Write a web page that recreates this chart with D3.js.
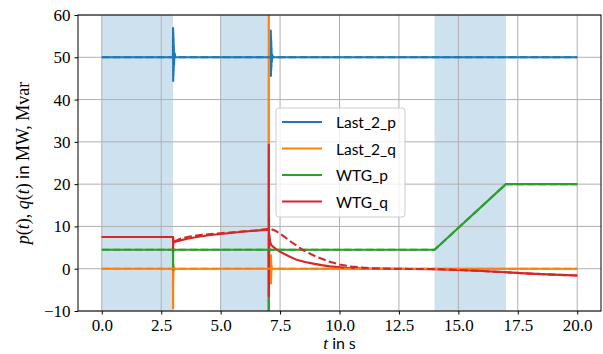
<!DOCTYPE html>
<html>
<head>
<meta charset="utf-8">
<script src="https://cdn.jsdelivr.net/npm/d3@7"></script>
<style>
  body { margin: 0; background: #fff; }
  svg { display: block; }
</style>
</head>
<body>
<svg id="chart" width="603" height="354"></svg>
<script>
// ---- data -------------------------------------------------------------
const seriesNames = ["Last_2_p", "Last_2_q", "WTG_p", "WTG_q"];

// Shaded time windows [start, end] in s
const windowStarts = [0, 5, 14];
const windowEnds   = [3, 7, 17];

const xTicks = [0, 2.5, 5, 7.5, 10, 12.5, 15, 17.5, 20];
const yTicks = [-10, 0, 10, 20, 30, 40, 50, 60];

// Last_2_p, simulated
const tLastP   = [0, 2.99, 3.00, 3.005, 3.01, 3.015, 3.02, 3.025, 3.03, 3.04, 3.06, 3.1, 7.10, 7.11, 7.115, 7.12, 7.125, 7.13, 7.135, 7.14, 7.15, 7.17, 7.2, 20];
const valLastP = [50, 50, 56.9, 44.4, 55.8, 45.5, 54.5, 46.8, 52.8, 48.2, 51, 50, 50, 56.3, 45.6, 55, 46.8, 53.8, 47.6, 52.2, 48.8, 50.6, 50, 50];
// Last_2_q, simulated
const tLastQ   = [0, 2.995, 3.00, 3.005, 3.01, 3.02, 3.03, 3.05, 7.02, 7.025, 7.03, 7.035, 7.045, 7.06, 7.11, 7.115, 7.12, 7.125, 7.13, 7.14, 7.16, 20];
const valLastQ = [0, 0, -9.4, 1.2, -2.5, 0.8, -0.4, 0, 0, 75, -20, 6, -2, 0, 0, 3.2, -3.5, 2.2, -1.8, 0.8, 0, 0];
// WTG_p, simulated
const tWtgP   = [0, 2.995, 3.00, 3.005, 3.01, 3.02, 7.015, 7.02, 7.03, 7.035, 7.045, 7.06, 7.1, 14, 17, 20];
const valWtgP = [4.5, 4.5, -0.3, 3.8, 4.8, 4.5, 4.5, -18, 8, 3, 4.8, 4.5, 4.5, 4.5, 20, 20];
// WTG_q, simulated
const tWtgQ   = [0, 2.995, 3.00, 3.005, 3.01, 3.02, 3.05, 3.3, 3.6, 4.0, 4.5, 5.0, 5.5, 6.0, 6.5, 7.02, 7.025, 7.03, 7.035, 7.04, 7.05, 7.08, 7.12, 7.2, 7.5, 7.85, 8.2, 8.55, 8.9, 9.25, 9.6, 10.3, 11.0, 12.0, 13.0, 14.0, 15.0, 16.0, 17.0, 18.0, 19.0, 20.0];
const valWtgQ = [7.5, 7.5, 4.2, 7.0, 5.8, 6.4, 6.3, 6.7, 7.1, 7.5, 7.9, 8.2, 8.5, 8.8, 9.0, 9.2, 29.3, -6.5, 12, 4, 8, 6.5, 5.7, 5.2, 4.0, 3.0, 2.1, 1.6, 1.2, 0.85, 0.55, 0.2, 0.05, 0.0, -0.05, -0.1, -0.3, -0.55, -0.85, -1.15, -1.4, -1.6];

// Reference trajectories (dashed)
const tLastPRef   = [0, 20];
const valLastPRef = [50, 50];
const tLastQRef   = [0, 20];
const valLastQRef = [0, 0];
const tWtgPRef    = [0, 14, 17, 20];
const valWtgPRef  = [4.5, 4.5, 20, 20];
const tWtgQRef    = [0, 3.0, 3.02, 3.3, 3.7, 4.2, 5.0, 5.5, 6.0, 6.5, 7.05, 7.3, 7.6, 8.0, 8.5, 9.0, 9.5, 10.0, 10.5, 11.0, 11.5, 12.0, 13, 14, 15, 16, 17, 18, 19, 20];
const valWtgQRef  = [7.5, 7.5, 6.3, 7.1, 7.6, 8.0, 8.4, 8.6, 8.85, 9.05, 9.5, 9.0, 7.9, 6.2, 4.3, 2.9, 1.8, 1.0, 0.5, 0.25, 0.1, 0.02, -0.05, -0.1, -0.3, -0.55, -0.85, -1.15, -1.4, -1.6];

const colors = ["#1f77b4", "#ff7f0e", "#2ca02c", "#d62728"];

// ---- layout -----------------------------------------------------------
const W = 603, H = 354;
const margin = { top: 15, right: 2, bottom: 43, left: 78 };
const iw = W - margin.left - margin.right;
const ih = H - margin.top - margin.bottom;

const serif = "'Liberation Serif', 'DejaVu Serif', serif";
const sans  = "Lato, 'DejaVu Sans', sans-serif";

const svg = d3.select("#chart");
const g = svg.append("g").attr("transform", `translate(${margin.left},${margin.top})`);

const x = d3.scaleLinear().domain([-1, 21]).range([0, iw]);
const y = d3.scaleLinear().domain([-10, 60]).range([ih, 0]);

svg.append("defs").append("clipPath").attr("id", "plot-clip")
  .append("rect").attr("width", iw).attr("height", ih);

// shaded windows
g.append("g").selectAll("rect")
  .data(windowStarts.map((s, i) => [s, windowEnds[i]]))
  .join("rect")
  .attr("x", d => x(d[0]))
  .attr("width", d => x(d[1]) - x(d[0]))
  .attr("y", 0).attr("height", ih)
  .attr("fill", "#1f77b4").attr("fill-opacity", 0.22);

// grid
const grid = g.append("g").attr("stroke", "#b0b0b0").attr("stroke-width", 1);
grid.selectAll(".gx").data(xTicks).join("line")
  .attr("x1", d => x(d)).attr("x2", d => x(d)).attr("y1", 0).attr("y2", ih);
grid.selectAll(".gy").data(yTicks).join("line")
  .attr("y1", d => y(d)).attr("y2", d => y(d)).attr("x1", 0).attr("x2", iw);

// lines
const line = d3.line().x(d => x(d[0])).y(d => y(d[1]));
const zip = (t, v) => t.map((ti, i) => [ti, v[i]]);

const solid = [zip(tLastP, valLastP), zip(tLastQ, valLastQ), zip(tWtgP, valWtgP), zip(tWtgQ, valWtgQ)];
const dashed = [zip(tLastPRef, valLastPRef), zip(tLastQRef, valLastQRef), zip(tWtgPRef, valWtgPRef), zip(tWtgQRef, valWtgQRef)];

const lines = g.append("g").attr("clip-path", "url(#plot-clip)");
solid.forEach((d, i) => {
  lines.append("path").attr("d", line(d))
    .attr("fill", "none").attr("stroke", colors[i]).attr("stroke-width", 2.1)
    .attr("stroke-linejoin", "round");
});
dashed.forEach((d, i) => {
  lines.append("path").attr("d", line(d))
    .attr("fill", "none").attr("stroke", colors[i]).attr("stroke-width", 2.1)
    .attr("stroke-dasharray", "7.7,3.3");
});

// axes
const xAxis = g.append("g").attr("transform", `translate(0,${ih})`)
  .call(d3.axisBottom(x).tickValues(xTicks).tickFormat(d3.format(".1f")).tickSizeOuter(0).tickSize(3.5).tickPadding(4));
const yAxis = g.append("g")
  .call(d3.axisLeft(y).tickValues(yTicks).tickFormat(d => d < 0 ? "\u2212" + Math.abs(d) : d).tickSizeOuter(0).tickSize(3.5).tickPadding(4));
[xAxis, yAxis].forEach(a => {
  a.select(".domain").remove();
  a.selectAll("text").attr("font-family", serif).attr("font-size", 17).attr("fill", "#000");
  a.selectAll("line").attr("stroke", "#000").attr("stroke-width", 1);
});

// frame
g.append("rect").attr("width", iw).attr("height", ih)
  .attr("fill", "none").attr("stroke", "#000").attr("stroke-width", 1);

// axis labels
const xl = svg.append("text")
  .attr("x", margin.left + iw / 2).attr("y", 349)
  .attr("text-anchor", "middle").attr("font-size", 17).attr("font-family", serif);
xl.append("tspan").attr("font-style", "italic").text("t");
xl.append("tspan").attr("font-family", sans).attr("font-size", 16).text(" in ");
xl.append("tspan").text("s");

const yl = svg.append("text")
  .attr("transform", `translate(29,${margin.top + ih / 2}) rotate(-90)`)
  .attr("text-anchor", "middle").attr("font-size", 18).attr("font-family", serif);
yl.append("tspan").attr("font-style", "italic").text("p");
yl.append("tspan").text("(");
yl.append("tspan").attr("font-style", "italic").text("t");
yl.append("tspan").text("), ");
yl.append("tspan").attr("font-style", "italic").text("q");
yl.append("tspan").text("(");
yl.append("tspan").attr("font-style", "italic").text("t");
yl.append("tspan").text(")");
yl.append("tspan").attr("font-family", sans).attr("font-size", 17).text(" in ");
yl.append("tspan").text("MW, Mvar");

// legend
const lg = svg.append("g").attr("transform", "translate(276,108)");
lg.append("rect").attr("width", 129).attr("height", 109).attr("rx", 3)
  .attr("fill", "#fff").attr("fill-opacity", 0.8)
  .attr("stroke", "#cccccc").attr("stroke-width", 1);
seriesNames.forEach((name, i) => {
  const yy = 14 + i * 26.5;
  lg.append("line").attr("x1", 6).attr("x2", 46).attr("y1", yy).attr("y2", yy)
    .attr("stroke", colors[i]).attr("stroke-width", 2.1);
  lg.append("text").attr("x", 60).attr("y", yy + 6)
    .attr("font-family", sans).attr("font-size", 15.5).attr("fill", "#000")
    .text(name);
});
</script>
</body>
</html>
